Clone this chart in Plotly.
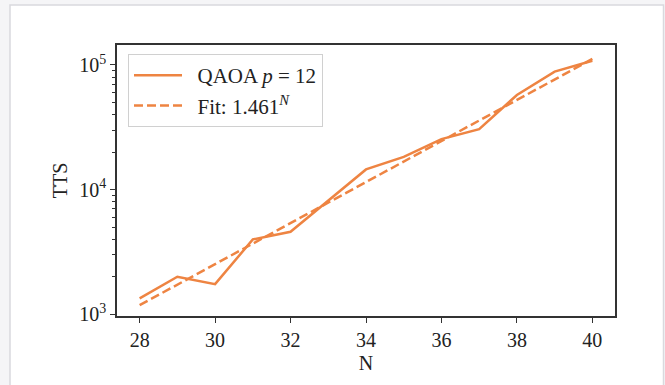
import plotly.graph_objects as go

N = [28, 29, 30, 31, 32, 33, 34, 35, 36, 37, 38, 39, 40]
tts_qaoa = [1340, 1995, 1740, 3980, 4580, 8090, 14500, 18300, 25400, 30500, 57400, 88300, 108000]
tts_fit = [1180, 1725, 2520, 3681, 5378, 7859, 11480, 16770, 24510, 35810, 52310, 76420, 111660]
x_ticks = [28, 30, 32, 34, 36, 38, 40]
y_ticks = [1e3, 1e4, 1e5]

color = "#EE8442"
font_family = "Liberation Serif, Times New Roman, serif"
NB = "\u00a0"

fig = go.Figure()
fig.add_trace(go.Scatter(x=N, y=tts_qaoa, mode="lines",
                         name=NB * 2 + "QAOA <i>p</i>" + NB + "=" + NB + "12",
                         line=dict(color=color, width=2.5)))
fig.add_trace(go.Scatter(x=N, y=tts_fit, mode="lines",
                         name=NB * 2 + "Fit: 1.461<sup><i>N</i></sup>",
                         line=dict(color=color, width=2.5, dash="9px,4px")))

L, R, T, B = 117, 50, 45, 69
W, H = 665, 385
pw, ph = W - L - R, H - T - B

def px_x(p):
    return (p - L) / pw

def px_y(p):
    return (H - B - p) / ph

fig.add_shape(type="rect", xref="paper", yref="paper",
              x0=px_x(10), x1=px_x(663.5), y0=px_y(395), y1=px_y(5),
              fillcolor="white", line=dict(color="#d9d9de", width=1.5), layer="below")

axis_common = dict(showline=True, linecolor="#333333", linewidth=1.5, mirror=True,
                   ticks="outside", ticklen=5, tickwidth=1.2, tickcolor="#333333",
                   showgrid=False, zeroline=False,
                   tickfont=dict(family=font_family, size=20, color="#222222"),
                   title_font=dict(family=font_family, size=20, color="#222222"))

fig.update_xaxes(range=[27.4, 40.6], tickvals=x_ticks, title_text="N",
                 title_standoff=6, **axis_common)
fig.update_yaxes(type="log", range=[2.985, 5.16], tickvals=y_ticks,
                 ticktext=["10<sup>3</sup>", "10<sup>4</sup>", "10<sup>5</sup>"],
                 title_text="TTS", title_standoff=6,
                 minor=dict(ticks="outside", ticklen=3, tickcolor="#333333", tickwidth=1,
                            dtick="D1", showgrid=False),
                 **axis_common)

fig.update_layout(
    width=W, height=H,
    margin=dict(l=L, r=R, t=T, b=B),
    paper_bgcolor="#f5f5f7", plot_bgcolor="white",
    font=dict(family=font_family, size=20, color="#222222"),
    legend=dict(x=px_x(128), y=px_y(54), xanchor="left", yanchor="top",
                bgcolor="white", bordercolor="#d0d0d0", borderwidth=1,
                font=dict(family=font_family, size=21, color="#222222"),
                tracegroupgap=0, itemwidth=48),
    showlegend=True,
)

fig.write_html("out.html")
